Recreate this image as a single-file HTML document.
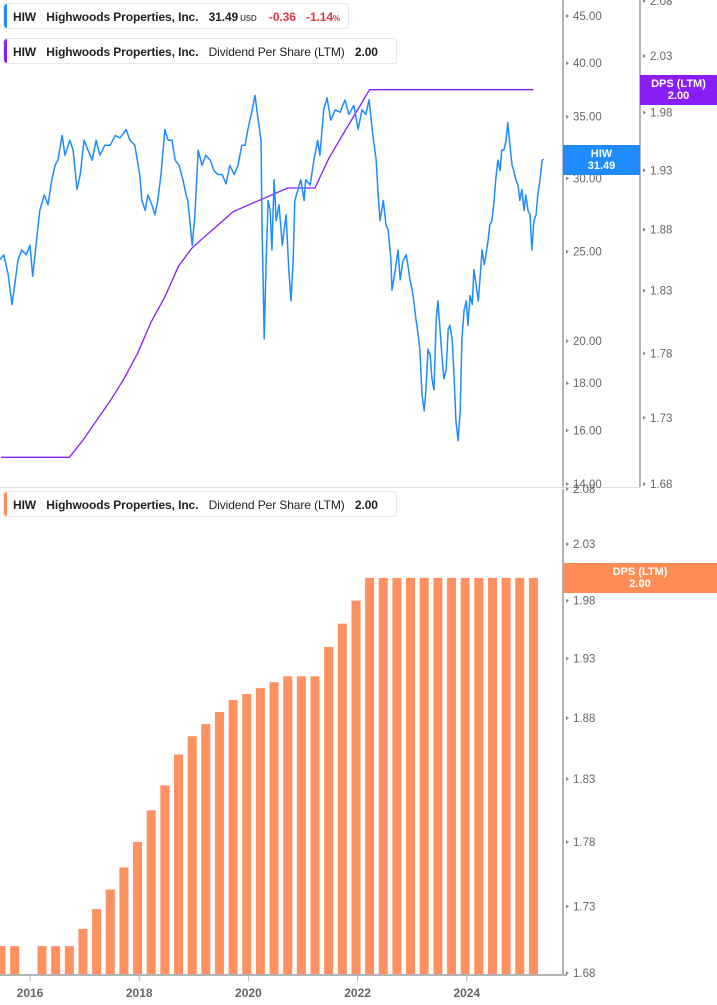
<!DOCTYPE html>
<html><head><meta charset="utf-8">
<style>
body{margin:0;background:#fff;font-family:"Liberation Sans",sans-serif;}
#wrap{position:relative;width:717px;height:1005px;overflow:hidden;}
.leg{position:absolute;left:3px;height:26px;border:1px solid #e6e6e6;border-radius:3px;background:#fff;font-size:12px;font-weight:bold;color:#222;line-height:26px;white-space:nowrap;padding-left:9px;box-sizing:border-box;letter-spacing:-0.1px}
.leg .bar{position:absolute;left:0;top:0;bottom:0;width:3px;border-radius:3px 0 0 3px}
.leg span{margin-right:7px}
.lab{position:absolute;color:#fff;font-size:11px;font-weight:bold;text-align:center;line-height:12px}
</style></head><body>
<div id="wrap">
<svg id="svg" width="717" height="1005" style="position:absolute;left:0;top:0"></svg>
<div class="leg" style="top:3px;width:346px"><div class="bar" style="background:#1e8cff"></div><span>HIW</span> <span>Highwoods Properties, Inc.</span> <span style="margin-right:2px">31.49</span><span style="font-size:8px;color:#555">USD</span> <span style="color:#e0383e;margin-left:2px">-0.36</span> <span style="color:#e0383e">-1.14<small style="font-size:8px">%</small></span></div>
<div class="leg" style="top:38px;width:394px"><div class="bar" style="background:#8a1df5"></div><span>HIW</span> <span>Highwoods Properties, Inc.</span> <span style="font-weight:normal">Dividend Per Share (LTM)</span> <span>2.00</span></div>
<div class="leg" style="top:491px;width:394px"><div class="bar" style="background:#ff8c55"></div><span>HIW</span> <span>Highwoods Properties, Inc.</span> <span style="font-weight:normal">Dividend Per Share (LTM)</span> <span>2.00</span></div>
<div class="lab" style="left:563px;top:145px;width:77px;height:30px;background:#1e8cff;padding-top:3px;box-sizing:border-box">HIW<br>31.49</div>
<div class="lab" style="left:640px;top:75px;width:77px;height:30px;background:#8a1df5;padding-top:3px;box-sizing:border-box">DPS (LTM)<br>2.00</div>
<div class="lab" style="left:563px;top:563px;width:154px;height:30px;background:#ff8c55;padding-top:3px;box-sizing:border-box">DPS (LTM)<br>2.00</div>
</div>
<script>
const priceDates=[2015.45,2015.52,2015.60,2015.67,2015.72,2015.78,2015.85,2015.93,2016.00,2016.05,2016.11,2016.18,2016.26,2016.33,2016.40,2016.46,2016.51,2016.59,2016.64,2016.73,2016.79,2016.86,2016.92,2016.99,2017.06,2017.14,2017.21,2017.28,2017.37,2017.47,2017.56,2017.65,2017.76,2017.83,2017.92,2018.01,2018.05,2018.11,2018.16,2018.23,2018.29,2018.34,2018.40,2018.47,2018.53,2018.60,2018.66,2018.73,2018.80,2018.86,2018.89,2018.97,2019.02,2019.08,2019.15,2019.22,2019.30,2019.37,2019.44,2019.52,2019.59,2019.66,2019.74,2019.81,2019.88,2019.94,2019.99,2020.07,2020.12,2020.18,2020.23,2020.25,2020.27,2020.29,2020.32,2020.36,2020.40,2020.43,2020.47,2020.51,2020.56,2020.62,2020.69,2020.74,2020.78,2020.82,2020.85,2020.91,2020.96,2021.02,2021.05,2021.13,2021.20,2021.27,2021.31,2021.38,2021.44,2021.51,2021.59,2021.68,2021.77,2021.84,2021.93,2022.01,2022.08,2022.15,2022.21,2022.28,2022.34,2022.37,2022.41,2022.47,2022.52,2022.56,2022.61,2022.63,2022.69,2022.74,2022.78,2022.83,2022.89,2022.92,2022.96,2023.00,2023.03,2023.07,2023.11,2023.14,2023.18,2023.22,2023.25,2023.29,2023.33,2023.36,2023.40,2023.44,2023.47,2023.51,2023.55,2023.58,2023.62,2023.66,2023.69,2023.73,2023.77,2023.80,2023.84,2023.88,2023.91,2023.95,2023.99,2024.02,2024.06,2024.10,2024.13,2024.17,2024.21,2024.24,2024.28,2024.32,2024.35,2024.39,2024.42,2024.46,2024.50,2024.53,2024.57,2024.61,2024.64,2024.68,2024.72,2024.75,2024.79,2024.83,2024.86,2024.90,2024.94,2024.97,2025.01,2025.05,2025.08,2025.12,2025.16,2025.19,2025.23,2025.27,2025.30,2025.34,2025.38,2025.41];
const priceValues=[24.5,24.8,23.6,21.9,23.0,24.5,25.1,24.8,25.4,23.5,25.4,27.7,28.8,28.1,29.9,31.0,31.4,33.4,31.8,33.0,32.2,29.2,30.3,33.0,32.2,31.4,33.0,31.8,32.6,32.6,33.4,33.2,33.9,33.0,32.6,30.3,28.4,27.7,28.8,28.1,27.4,28.4,30.3,33.9,33.0,33.0,31.4,31.0,29.9,28.8,28.4,25.4,27.4,32.2,31.0,31.8,31.4,30.6,30.3,30.3,29.6,31.0,30.3,31.0,32.6,32.6,33.9,35.6,36.9,34.7,33.0,26.4,23.3,20.1,23.9,28.4,27.7,25.1,29.9,27.0,28.1,25.4,27.4,23.9,22.1,24.5,28.4,29.2,29.9,28.4,29.9,29.5,31.4,33.0,31.8,35.6,36.7,34.7,35.6,35.4,36.5,35.2,36.0,33.9,35.6,35.2,36.5,33.4,31.4,29.2,27.0,28.4,26.7,26.4,24.5,22.7,23.9,25.1,23.3,24.4,24.8,24.2,23.3,22.7,22.1,21.1,20.3,19.6,17.5,16.8,17.7,19.6,19.3,18.2,17.7,21.1,22.1,20.6,19.1,18.2,18.6,20.6,20.8,20.1,18.2,16.4,15.6,16.8,20.1,21.6,22.1,20.8,22.4,21.9,23.9,23.0,22.1,23.3,25.1,24.2,24.8,25.7,26.7,27.0,28.4,29.9,31.4,30.6,32.2,32.2,33.0,34.5,32.6,31.0,30.6,29.9,29.5,28.4,29.2,27.7,28.8,27.7,27.4,25.1,27.0,27.4,28.8,29.9,31.4,31.49];
const dpsDates=[2015.47,2015.72,2016.22,2016.47,2016.72,2016.97,2017.22,2017.47,2017.72,2017.97,2018.22,2018.47,2018.72,2018.97,2019.22,2019.47,2019.72,2019.97,2020.22,2020.47,2020.72,2020.97,2021.22,2021.47,2021.72,2021.97,2022.22,2022.47,2022.72,2022.97,2023.22,2023.47,2023.72,2023.97,2024.22,2024.47,2024.72,2024.97,2025.22];
const dpsValues=[1.70,1.70,1.70,1.70,1.70,1.713,1.728,1.743,1.76,1.78,1.805,1.825,1.85,1.865,1.875,1.885,1.895,1.90,1.905,1.91,1.915,1.915,1.915,1.94,1.96,1.98,2.00,2.00,2.00,2.00,2.00,2.00,2.00,2.00,2.00,2.00,2.00,2.00,2.00];
const priceTicks=[45,40,35,30,25,20,18,16,14];
const dpsTicks=[2.08,2.03,1.98,1.93,1.88,1.83,1.78,1.73,1.68];
const yearTicks=[2016,2018,2020,2022,2024];

const NS="http://www.w3.org/2000/svg", svg=document.getElementById('svg');
function mk(t,a,p){const e=document.createElementNS(NS,t);for(const k in a)e.setAttribute(k,a[k]);(p||svg).appendChild(e);return e;}
const x=d=>30+(d-2016)*54.6;
const yPrice=v=>16+400.8*Math.log(45/v);
const yDpsTop=v=>1+2262*Math.log(2.08/v);
const yDpsBot=v=>489+2266*Math.log(2.08/v);

let e=mk('line',{x1:0,y1:487.5,x2:640,y2:487.5,stroke:'#ddd','stroke-width':1});


dpsDates.forEach((d,i)=>{const yt=yDpsBot(dpsValues[i]);
 const r=mk('rect',{x:x(d)-4.5,y:yt,width:9,height:975-yt,fill:'#ff9060'});
 
 });

e=mk('path',{d:dpsDates.map((d,i)=>(i?'L':'M')+x(d).toFixed(1)+','+yDpsTop(dpsValues[i]).toFixed(1)).join(''),fill:'none',stroke:'#8a1df5','stroke-width':1.3});

e=mk('path',{d:priceDates.map((d,i)=>(i?'L':'M')+x(d).toFixed(1)+','+yPrice(priceValues[i]).toFixed(1)).join(''),fill:'none',stroke:'#1e8cff','stroke-width':1.5,'stroke-linejoin':'round'});


function axisLine(x1,y1,x2,y2,n){const l=mk('line',{x1,y1,x2,y2,stroke:'#b4b4b4','stroke-width':2});}
axisLine(563,0,563,487,'price-axis-line');
axisLine(640,0,640,487,'dps-axis-line');
axisLine(563,489,563,976,'dps-bar-axis-line');
axisLine(0,975,567,975,'x-axis-line');
function tickLabel(tx,ty,txt,n){
 const m=mk('path',{d:`M${tx+3},${ty-2}L${tx+6},${ty}L${tx+3},${ty+2}Z`,fill:'#888'});
 
 const t=mk('text',{x:tx+10,y:ty+4,'font-size':11.5,fill:'#666','font-family':'Liberation Sans, sans-serif'});
 t.textContent=txt;}
priceTicks.forEach(v=>tickLabel(563,yPrice(v),v.toFixed(2),'price-tick-label'));
dpsTicks.forEach(v=>tickLabel(640,yDpsTop(v),v.toFixed(2),'dps-tick-label'));
dpsTicks.forEach(v=>tickLabel(563,yDpsBot(v),v.toFixed(2),'dps-bar-tick-label'));
yearTicks.forEach(yv=>{const xx=x(yv);
 const l=mk('line',{x1:xx,y1:976,x2:xx,y2:981,stroke:'#b4b4b4','stroke-width':1});
 
 const t=mk('text',{x:xx,y:997,'font-size':12,'font-weight':'bold',fill:'#666','text-anchor':'middle','font-family':'Liberation Sans, sans-serif'});
 t.textContent=yv;});
</script>
</body></html>
